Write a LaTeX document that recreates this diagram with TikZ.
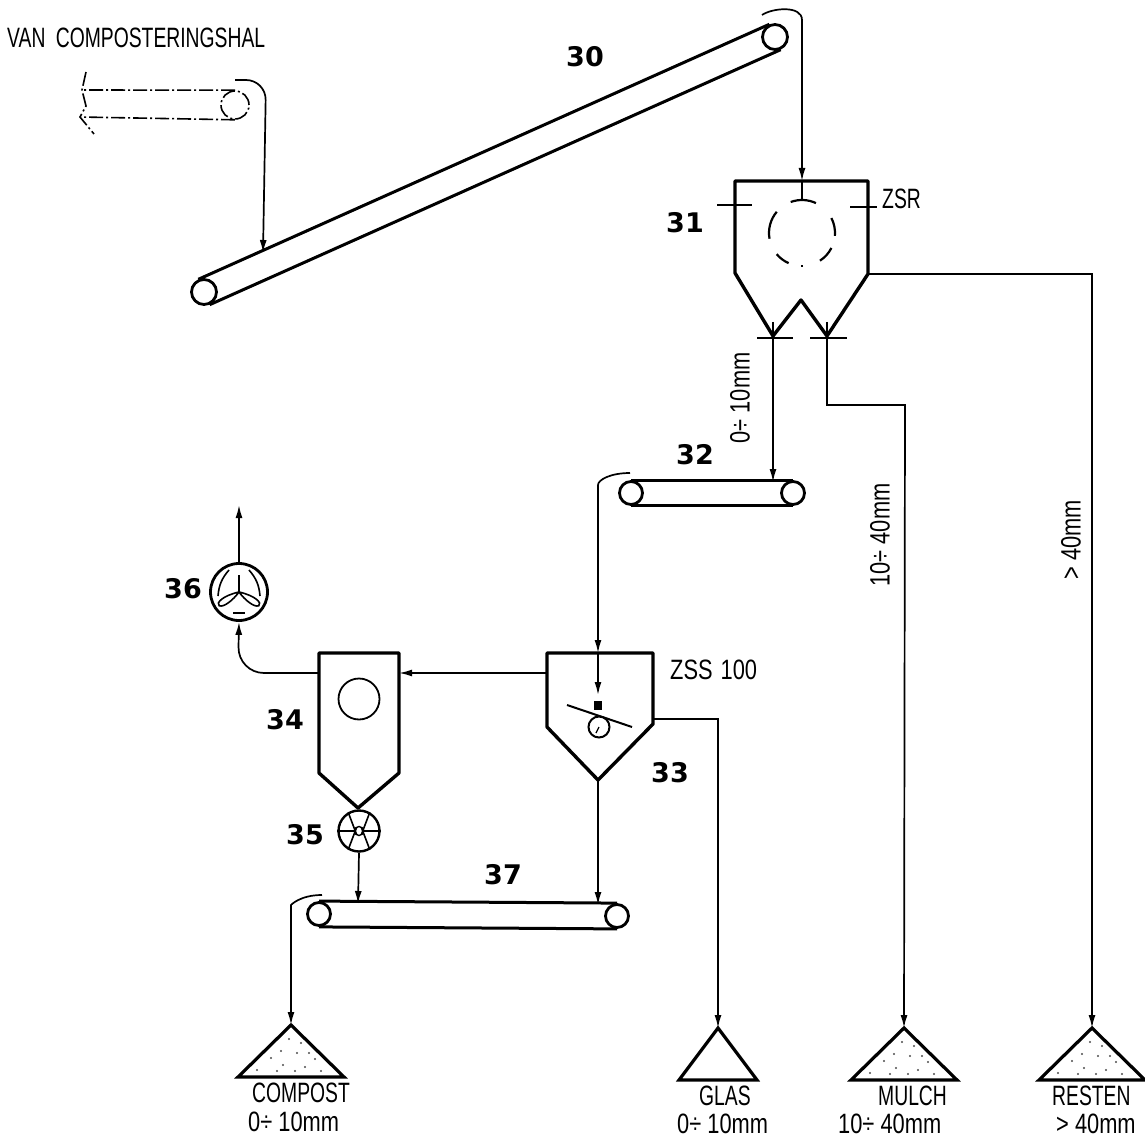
\documentclass[tikz,border=0pt]{standalone}
\usepackage{fontspec}
\usetikzlibrary{arrows.meta}
\newfontfamily\letterfont[FakeStretch=0.69]{Liberation Sans}
\newfontfamily\measurefont[FakeStretch=0.78]{Liberation Sans}
\newfontfamily\numberfont{DejaVu Sans Bold}
\begin{document}
\begin{tikzpicture}[x=1pt,y=-1pt,>={Latex[length=13pt,width=7pt]},
  roller/.style={draw,circle,line width=2.8pt,inner sep=0pt,minimum size=#1},
  belt/.style={line width=3pt},
  vessel/.style={line width=3.4pt,line join=round},
  flow/.style={line width=1.7pt,->,rounded corners=20pt},
  line/.style={line width=1.7pt},
  ghost/.style={line width=1.6pt,dash pattern=on 14pt off 3pt on 2pt off 3pt},
  pile/.style={line width=3.2pt,line join=miter},
  num/.style={font=\numberfont\fontsize{27}{29}\selectfont,inner sep=0pt},
  word/.style={font=\letterfont\fontsize{28}{29}\selectfont,inner sep=0pt},
  measure/.style={font=\measurefont\fontsize{28}{29}\selectfont,inner sep=0pt}]
  \useasboundingbox (0,0) rectangle (1145,1139);

  \node[word,anchor=west] (from) at (7,38) {VAN\hspace{5pt} COMPOSTERINGSHAL};
  \node[roller=28pt,ghost] (r0) at (235,105) {};
  \draw[ghost] (r0.north) -- (82,90);
  \draw[ghost] (r0.south) -- (80,117);
  \draw[ghost] (86,72) -- (82,90) -- (86,106) -- (80,117) -- (94,134);

  \node[roller=25pt] (r30a) at (204,292) {};
  \node[roller=25pt] (r30b) at (775,37) {};
  \draw[belt] (r30a.114) -- (r30b.114) (r30a.-66) -- (r30b.-66);
  \node[num] (n30) at (585,57) {30};

  \coordinate (s0) at (235,80);
  \coordinate (e0) at (263,253);
  \draw[flow] (s0) -- (266,80) -- (e0);

  \coordinate (t31) at (802,181);
  \coordinate (o31a) at (773,336);
  \coordinate (o31b) at (827,336);
  \coordinate (o31c) at (868,274);
  \draw[vessel] (735,273) -- (735,181) -- (868,181) -- (o31c) -- (o31b) -- (801,300) -- (o31a) -- cycle;
  \draw[line] (717,205) -- (752,205) (850,207) -- (877,207);
  \draw[line] (757,338) -- (793,338) (810,338) -- (847,338);
  \draw[line] (773,322) -- (o31a) (827,322) -- (o31b);
  \draw[line] (t31) -- (802,200);
  \foreach \a/\b in {-110/-65,-27/5,27/57,88/92,114/140,170/220}
    \draw[line width=2.2pt] (802,233) ++(\a:33) arc[start angle=\a,end angle=\b,radius=33];
  \node[num] (n31) at (685,223) {31};
  \node[word,anchor=west] (zsr) at (882,199) {ZSR};

  \coordinate (s30) at (762,15);
  \draw[flow] (s30) .. controls (772,8) and (802,5) .. (802,40) -- (t31);

  \node[roller=23pt] (r32a) at (631,493) {};
  \node[roller=23pt] (r32b) at (793,493) {};
  \draw[belt] (r32a.north) -- (r32b.north) (r32a.south) -- (r32b.south);
  \node[num] (n32) at (695,455) {32};
  \draw[flow] (o31a) -- (773,482);
  \node[measure,rotate=90] (t10) at (740,398) {0÷ 10mm};

  \coordinate (t33) at (598,653);
  \coordinate (l33) at (547,673);
  \coordinate (o33a) at (653,719);
  \coordinate (o33b) at (598,780);
  \draw[vessel] (547,727) -- (547,653) -- (653,653) -- (653,724) -- (o33b) -- cycle;
  \draw[flow] (630,473) .. controls (610,473) and (598,480) .. (598,505) -- (t33);
  \draw[line] (t33) -- (598,680);
  \draw[line width=1.7pt,->] (598,678) -- (598,695);
  \fill (594,701) rectangle (602,710);
  \draw[line width=2pt] (567,705) -- (632,727);
  \node[roller=21pt,line width=2pt] (r33) at (599,727) {};
  \draw[line width=1.2pt] (r33.center) -- ++(-3,6);
  \node[measure,anchor=west] (zss) at (670,670) {ZSS\hspace{8pt}100};
  \node[num] (n33) at (670,773) {33};

  \coordinate (r34) at (399,673);
  \coordinate (l34) at (319,673);
  \coordinate (o34) at (358,808);
  \draw[vessel] (319,773) -- (319,653) -- (399,653) -- (399,773) -- (o34) -- cycle;
  \node[draw,circle,line width=1.8pt,inner sep=0pt,minimum size=41pt] (c34) at (359,699) {};
  \node[num] (n34) at (285,720) {34};
  \draw[flow] (l33) -- (r34);

  \node[draw,circle,line width=2.4pt,inner sep=0pt,minimum size=41pt] (w35) at (359,831) {};
  \foreach \a in {0,60,...,300}
    \draw[line width=1.6pt] (w35.center) ++(\a:4.5) -- (w35.\a);
  \draw[line width=1.4pt] (w35.center) circle (4.5);
  \node[num] (n35) at (305,835) {35};

  \node[roller=57pt] (f36) at (239,592) {};
  \draw[line width=1.8pt] (f36.center) -- ++(0,-17);
  \draw[line width=1.6pt,rotate around={-30:(239,592)}] (239,592) .. controls (255,587) and (265,590) .. (263,594) .. controls (260,598) and (248,596) .. cycle;
  \draw[line width=1.6pt,rotate around={30:(239,592)}] (239,592) .. controls (223,587) and (213,590) .. (215,594) .. controls (218,598) and (230,596) .. cycle;
  \draw[line width=1.6pt] (218,596) to[bend left=18] (229,570) (260,596) to[bend right=18] (249,570);
  \draw[line width=2pt] (233,613) -- (245,613);
  \node[num] (n36) at (183,589) {36};
  \coordinate (u36) at (239,505);
  \draw[line width=1.7pt,->] (f36.north) -- (u36);
  \draw[flow,rounded corners=26pt] (l34) -- (238,673) -- (f36.south);

  \node[roller=23pt] (r37a) at (319,914) {};
  \node[roller=23pt] (r37b) at (617,916) {};
  \draw[belt] (r37a.north) -- (r37b.north) (r37a.south) -- (r37b.south);
  \node[num] (n37) at (503,875) {37};
  \draw[flow] (w35.south) -- (358,904);
  \draw[flow] (o33b) -- (598,905);

  \coordinate (compost) at (291,1025);
  \coordinate (glas) at (718,1028);
  \coordinate (mulch) at (904,1028);
  \coordinate (resten) at (1092,1028);
  \foreach \p in {compost,mulch,resten}
    \draw[pile] (\p) -- ++(-53,52) -- ++(106,0) -- cycle;
  \draw[pile] (glas) -- ++(-39,52) -- ++(78,0) -- cycle;
  \foreach \p in {compost,mulch,resten}
    \foreach \dx/\dy in {-2/14,-20/33,-8/40,6/28,14/42,24/34,-34/45,30/46,-14/46,4/46,10/18,-10/26,18/28}
      \fill[black!70] ([shift={(\dx,\dy)}]\p) circle (1.2);

  \draw[flow] (322,895) .. controls (300,895) and (291,905) .. (291,925) -- (compost);
  \draw[flow,rounded corners=0pt] (o33a) -- (718,719) -- (glas);
  \draw[flow,rounded corners=0pt] (o31b) -- (827,405) -- (905,405) -- (mulch);
  \draw[flow,rounded corners=0pt] (o31c) -- (1092,274) -- (resten);

  \node[measure,rotate=90] (t40) at (880,535) {10÷ 40mm};
  \node[measure,rotate=90] (t41) at (1071,540) {> 40mm};

  \node[word,anchor=west] (c1) at (252,1093) {COMPOST};
  \node[measure,anchor=west] (c2) at (248,1122) {0÷ 10mm};
  \node[word,anchor=west] (g1) at (699,1096) {GLAS};
  \node[measure,anchor=west] (g2) at (677,1124) {0÷ 10mm};
  \node[word,anchor=west] (m1) at (878,1096) {MULCH};
  \node[measure,anchor=west] (m2) at (838,1124) {10÷ 40mm};
  \node[word,anchor=west] (r1) at (1052,1096) {RESTEN};
  \node[measure,anchor=west] (r2) at (1056,1124) {> 40mm};
\end{tikzpicture}
\end{document}
